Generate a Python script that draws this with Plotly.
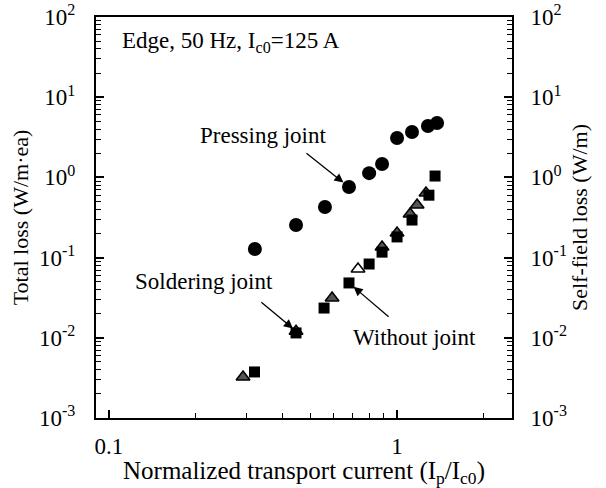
import math
import plotly.graph_objects as go

# Normalized transport current and loss values for each sample
press_x = [0.321, 0.446, 0.562, 0.681, 0.80, 0.887, 1.0, 1.127, 1.28, 1.377]
press_y = [0.128, 0.255, 0.428, 0.76, 1.13, 1.47, 3.1, 3.68, 4.37, 4.77]

solder_x = [0.292, 0.446, 0.595, 0.732, 0.887, 1.0, 1.11, 1.174, 1.26]
solder_y = [0.00325, 0.0121, 0.0313, 0.072, 0.1355, 0.203, 0.35, 0.453, 0.638]

nojoint_x = [0.32, 0.446, 0.558, 0.681, 0.80, 0.887, 1.0, 1.127, 1.29, 1.355]
nojoint_y = [0.00375, 0.0115, 0.0235, 0.0483, 0.0832, 0.117, 0.181, 0.294, 0.60, 1.04]

y_tickvals = [1e-3, 1e-2, 1e-1, 1e0, 1e1, 1e2]
y_ticktext = ["10<sup>-3</sup>", "10<sup>-2</sup>", "10<sup>-1</sup>",
              "10<sup>0</sup>", "10<sup>1</sup>", "10<sup>2</sup>"]
x_tickvals = [0.1, 1]
x_ticktext = ["0.1", "1"]

FONT = "Liberation Serif"
solder_open = 3  # this triangle is drawn hollow

fig = go.Figure()

fig.add_trace(go.Scatter(
    x=press_x, y=press_y, mode="markers", name="Pressing joint",
    marker=dict(symbol="circle", size=14, color="black"),
))
fig.add_trace(go.Scatter(
    x=nojoint_x, y=nojoint_y, mode="markers", name="Without joint", yaxis="y2",
    marker=dict(symbol="square", size=11, color="black"),
))
fig.add_trace(go.Scatter(
    x=solder_x, y=solder_y, mode="markers", name="Soldering joint",
    marker=dict(symbol="triangle-up", size=12,
                color=["white" if i == solder_open else "#555555"
                       for i in range(len(solder_x))],
                line=dict(color="black", width=1.5)),
))

x_minor = [v * m for v in (0.1, 1) for m in range(2, 10)]
y_minor = [10.0 ** e * m for e in range(-3, 2) for m in range(2, 10)]

tick_font = dict(family=FONT, size=23, color="black")
xtitle_font = dict(family=FONT, size=25, color="black")
ytitle_font = dict(family=FONT, size=22, color="black")


def log_y_axis(**extra):
    return dict(
        type="log", range=[-3, 2],
        tickmode="array", tickvals=y_tickvals, ticktext=y_ticktext,
        ticks="inside", ticklen=8, tickwidth=1.5, tickcolor="black",
        minor=dict(tickvals=y_minor, ticks="inside", ticklen=5,
                   tickwidth=1.2, tickcolor="black", showgrid=False),
        showline=True, linecolor="black", linewidth=2,
        showgrid=False, zeroline=False, automargin=False,
        tickfont=tick_font, **extra,
    )


fig.update_layout(
    width=606, height=488,
    margin=dict(l=96, r=94, t=17, b=70),
    paper_bgcolor="white", plot_bgcolor="white",
    showlegend=False,
    font=dict(family=FONT, size=20, color="black"),
    xaxis=dict(
        type="log", range=[-1.045, 0.399],
        tickmode="array", tickvals=x_tickvals, ticktext=x_ticktext,
        ticks="inside", ticklen=8, tickwidth=1.5, tickcolor="black",
        minor=dict(tickvals=x_minor, ticks="inside", ticklen=5,
                   tickwidth=1.2, tickcolor="black", showgrid=False),
        showline=True, linecolor="black", linewidth=2, mirror=True,
        showgrid=False, zeroline=False, automargin=False,
        tickfont=tick_font, ticklabelstandoff=6,
    ),
    yaxis=log_y_axis(
        ticklabelstandoff=14,
        title=dict(text="Total loss (W/m·ea)", font=ytitle_font, standoff=4),
    ),
    yaxis2=log_y_axis(
        overlaying="y", side="right", anchor="x",
        ticklabelstandoff=12,
        title=dict(text="Self-field loss (W/m)", font=ytitle_font, standoff=6),
    ),
)

# Horizontal axis title
fig.add_annotation(
    xref="paper", yref="paper", x=0.5, y=-0.137, xanchor="center", yanchor="middle",
    text="Normalized transport current (I<sub>p</sub>/I<sub>c0</sub>)",
    showarrow=False, font=xtitle_font,
)

text_font = dict(family=FONT, size=23, color="black")

fig.add_annotation(
    xref="paper", yref="paper", x=0.058, y=0.938, xanchor="left", yanchor="middle",
    text="Edge, 50 Hz, I<sub>c0</sub>=125 A", showarrow=False, font=text_font,
)
fig.add_annotation(x=-0.465, y=0.52, text="Pressing joint", showarrow=False, font=text_font)
fig.add_annotation(x=-0.670, y=-1.304, text="Soldering joint", showarrow=False, font=text_font)
fig.add_annotation(x=0.059, y=-1.99, text="Without joint", showarrow=False, font=text_font)

# Arrows pointing from each label to its marked sample
arrow_style = dict(showarrow=True, arrowhead=2, arrowsize=1.4, arrowwidth=1.3,
                   arrowcolor="black", axref="x", ayref="y", text="")
fig.add_annotation(x=math.log10(press_x[3]), y=math.log10(press_y[3]),
                   ax=math.log10(0.479), ay=math.log10(2.07), standoff=7, **arrow_style)
fig.add_annotation(x=math.log10(solder_x[1]), y=math.log10(solder_y[1]),
                   ax=math.log10(0.334), ay=math.log10(0.0288), standoff=4, **arrow_style)
fig.add_annotation(x=math.log10(nojoint_x[3]), y=math.log10(nojoint_y[3]),
                   ax=math.log10(0.946), ay=math.log10(0.01766), standoff=6, **arrow_style)

fig.write_html("out.html")
